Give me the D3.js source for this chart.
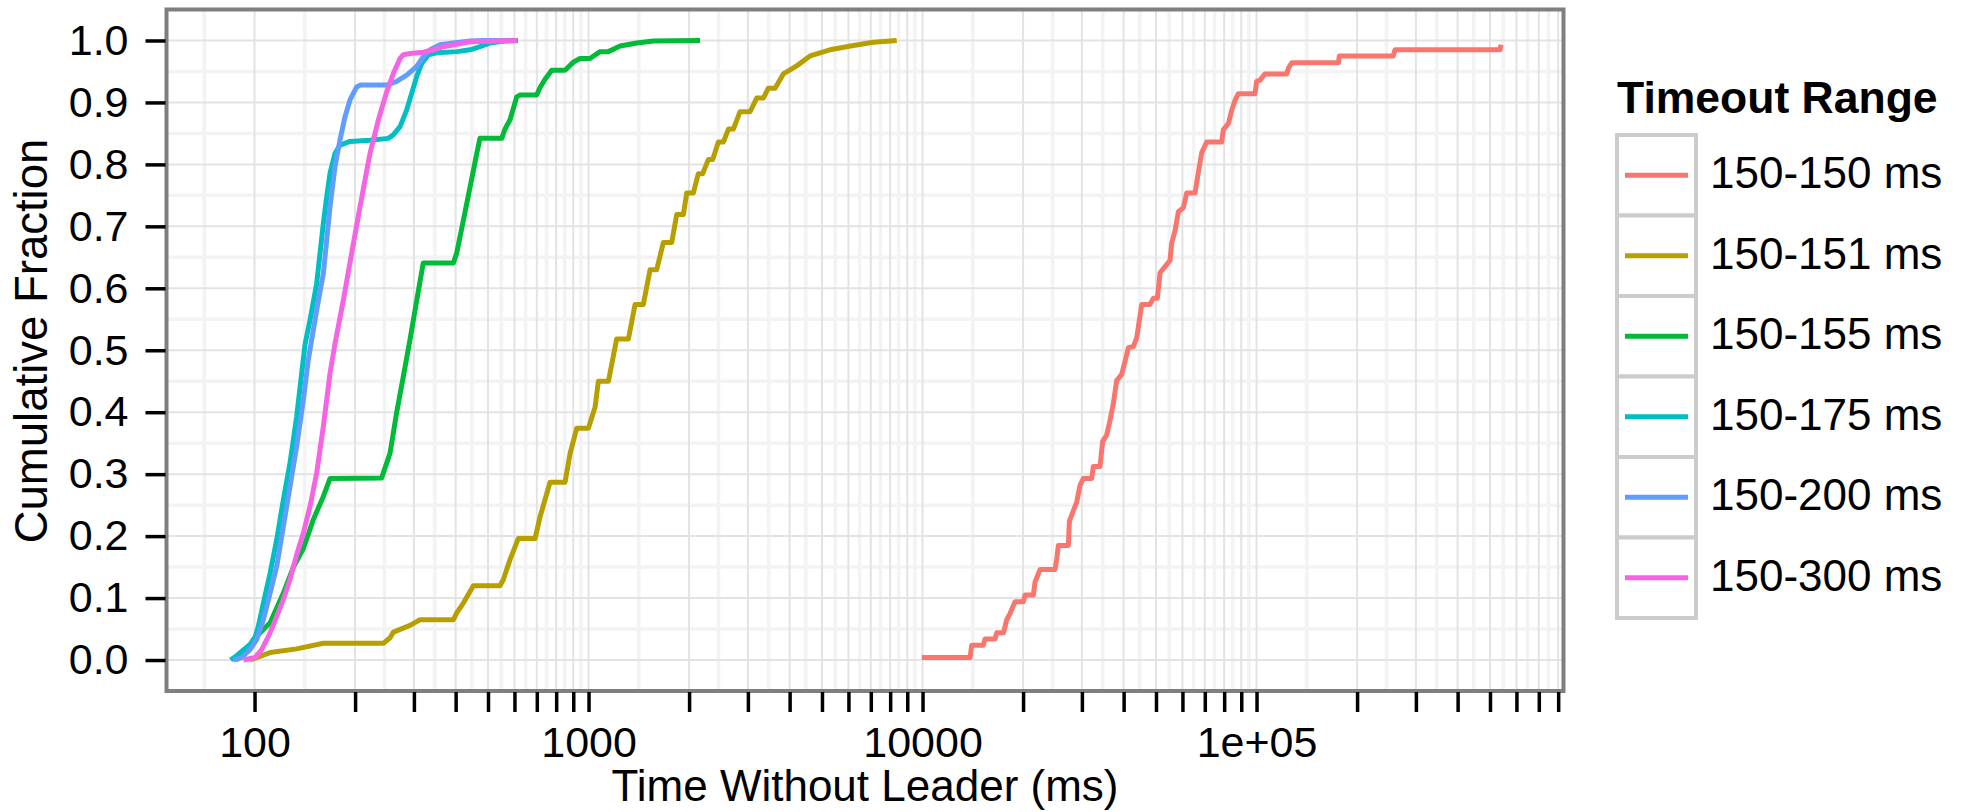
<!DOCTYPE html>
<html><head><meta charset="utf-8">
<script src="https://cdn.jsdelivr.net/npm/d3@7"></script>
<style>
body{margin:0;background:#fff}
svg{display:block}
text{font-family:"Liberation Sans", Arial, Helvetica, sans-serif;fill:#000}
</style>
</head><body>
<svg id="chart" width="1963" height="812"></svg>
<script>
// ---------------- data ----------------
const seriesNames = ["150-150 ms","150-151 ms","150-155 ms","150-175 ms","150-200 ms","150-300 ms"];
const seriesColors = ["#F8766D","#B79F00","#00BA38","#00BFC4","#619CFF","#F564E3"];

// [time (ms), cumulative fraction]
const s150_150 = [[9950,0.004],[13880,0.004],[14040,0.024],[15210,0.024],[15390,0.034],[16490,0.034],[16670,0.044],[17460,0.044],[17870,0.065],[18280,0.075],[18920,0.094],[20040,0.094],[20270,0.105],[21470,0.105],[21720,0.126],[22480,0.146],[24930,0.146],[25220,0.163],[25510,0.185],[27330,0.185],[27520,0.224],[28290,0.241],[28950,0.255],[29620,0.282],[30300,0.293],[32100,0.293],[32470,0.3125],[33990,0.3125],[34620,0.353],[35590,0.363],[36420,0.387],[37260,0.414],[38130,0.451],[39470,0.461],[40390,0.482],[41320,0.504],[42780,0.506],[43780,0.52],[45320,0.574],[47990,0.574],[49110,0.584],[50480,0.584],[51420,0.625],[53210,0.635],[55080,0.645],[55720,0.673],[57020,0.693],[58340,0.7235],[60390,0.73],[61790,0.754],[65460,0.754],[66980,0.788],[68540,0.819],[70920,0.836],[78650,0.836],[79560,0.856],[82360,0.866],[84260,0.887],[86230,0.9035],[88240,0.914],[98970,0.914],[100100,0.934],[102450,0.936],[106030,0.946],[123100,0.946],[124500,0.955],[127500,0.964],[175800,0.964],[177000,0.975],[256800,0.975],[259800,0.985],[535800,0.985],[539500,0.993]];

const s150_151 = [[96.9,0],[111.3,0.012],[133.7,0.018],[160.7,0.027],[243.1,0.027],[254.5,0.036],[260.4,0.045],[292,0.056],[313,0.065],[394,0.065],[403,0.076],[422,0.092],[452,0.12],[543,0.12],[556,0.13],[582,0.162],[616,0.196],[691.7,0.196],[715.8,0.231],[766.9,0.287],[850.4,0.287],[880.3,0.333],[921.8,0.374],[998.9,0.374],[1046,0.408],[1070,0.45],[1147,0.45],[1214,0.518],[1316,0.518],[1378,0.574],[1459,0.574],[1528,0.63],[1600,0.63],[1675,0.674],[1774,0.674],[1837,0.719],[1923,0.719],[1968,0.754],[2060,0.754],[2132,0.785],[2197,0.785],[2285,0.808],[2354,0.808],[2447,0.836],[2533,0.836],[2623,0.857],[2715,0.857],[2842,0.885],[3045,0.885],[3188,0.907],[3337,0.907],[3455,0.923],[3618,0.923],[3831,0.946],[4200,0.959],[4605,0.975],[5285,0.985],[6209,0.992],[7126,0.997],[8369,1.0]];

const s150_155 = [[88,0],[96,0.015],[99.2,0.033],[111.3,0.06],[122,0.108],[130.7,0.15],[140,0.18],[150,0.227],[160.7,0.264],[168.3,0.293],[240.2,0.294],[254.5,0.334],[266.5,0.40],[279,0.458],[292,0.517],[306,0.581],[320,0.641],[393.9,0.641],[403,0.657],[422,0.71],[442,0.764],[463,0.818],[473,0.842],[549.6,0.842],[561,0.856],[582,0.872],[609.5,0.909],[624,0.912],[699.5,0.912],[715.8,0.924],[741,0.9375],[775.8,0.952],[850.4,0.952],[900.6,0.965],[943,0.971],[1010,0.971],[1082,0.982],[1147,0.982],[1243,0.991],[1394,0.996],[1564,0.999],[2157,1.0]];

const s150_175 = [[84.8,0],[88.4,0.007],[91.5,0.014],[96.9,0.025],[100.3,0.036],[102.7,0.055],[106.3,0.092],[111.3,0.14],[116.5,0.194],[122.0,0.259],[127.7,0.318],[133.7,0.393],[138.4,0.463],[141.7,0.51],[146.6,0.549],[153.5,0.608],[160.7,0.705],[164.5,0.748],[168.3,0.786],[174.2,0.818],[180.3,0.831],[193.1,0.837],[221.7,0.839],[251.6,0.842],[260.5,0.848],[272.7,0.861],[285.5,0.888],[295.5,0.915],[305.9,0.942],[316.6,0.963],[331.5,0.977],[351.0,0.98],[403.0,0.982],[441.8,0.985],[473.3,0.99],[507.1,0.996],[560,0.999],[615,1.0]];

const s150_200 = [[86.4,0],[91.5,0.004],[96.9,0.017],[101.5,0.033],[106.3,0.065],[111.3,0.108],[116.5,0.151],[122.0,0.216],[127.7,0.28],[133.7,0.345],[140.0,0.42],[144.9,0.485],[147.5,0.51],[153.5,0.565],[160.7,0.624],[168.3,0.732],[174.2,0.797],[180.3,0.84],[186.6,0.877],[193.1,0.904],[202.2,0.925],[207,0.928],[248.7,0.928],[266.5,0.934],[285.5,0.944],[305.9,0.958],[320.2,0.974],[335.3,0.985],[359.3,0.993],[393.9,0.996],[441.8,0.999],[484.4,1.0],[600,1.0]];

const s150_300 = [[92.6,0],[100.3,0.004],[105.1,0.017],[111.3,0.044],[116.5,0.07],[122.0,0.098],[127.7,0.13],[133.7,0.17],[140.0,0.205],[146.6,0.248],[153.5,0.302],[160.7,0.377],[168.3,0.463],[174.2,0.511],[184.5,0.581],[195.4,0.657],[207.0,0.732],[221.7,0.818],[234.9,0.872],[248.7,0.917],[260.5,0.947],[272.7,0.971],[279.0,0.977],[292.1,0.979],[320.2,0.981],[343.1,0.985],[367.6,0.99],[403.0,0.994],[441.8,0.998],[609.5,1.0]];

const seriesData = [s150_150, s150_151, s150_155, s150_175, s150_200, s150_300];

const yTickValues = [0,0.1,0.2,0.3,0.4,0.5,0.6,0.7,0.8,0.9,1.0];
const yTickLabels = ["0.0","0.1","0.2","0.3","0.4","0.5","0.6","0.7","0.8","0.9","1.0"];
const xLabelValues = [100,1000,10000,100000];
const xTickLabels = ["100","1000","10000","1e+05"];
const xLimits = [54.5, 830000];
const yLimits = [-0.05, 1.05];
const xTitle = "Time Without Leader (ms)";
const yTitle = "Cumulative Fraction";
const legendTitle = "Timeout Range";

// ---------------- layout ----------------
const P = {left:166.5, right:1563.5, top:9.5, bottom:691};
const svg = d3.select("#chart");
const x = d3.scaleLog().domain(xLimits).range([P.left, P.right]);
const y = d3.scaleLinear().domain(yLimits).range([P.bottom, P.top]);

// major x breaks: 1..9 x 10^k from 100 upward, inside limits
const xMajor = [];
for (let k = 2; k <= 5; k++) for (let n = 1; n <= 9; n++) {
  const v = n * Math.pow(10, k);
  if (v >= xLimits[0] && v <= xLimits[1]) xMajor.push(v);
}
// minor x breaks: log-midpoints (ggplot style)
const lm = xMajor.map(Math.log10);
const bd = lm[1] - lm[0];
const lext = [lm[0] - bd, ...lm, lm[lm.length-1] + bd];
const xMinor = [];
for (let i = 0; i < lext.length - 1; i++) xMinor.push(Math.pow(10, (lext[i] + lext[i+1]) / 2));
const yMinor = [];
for (let i = -1; i < yTickValues.length; i++) yMinor.push((i + 0.5) / 10);

const grid = svg.append("g");
grid.append("rect").attr("x",P.left).attr("y",P.top).attr("width",P.right-P.left).attr("height",P.bottom-P.top).attr("fill","#fff");
const gMinor = grid.append("g").attr("stroke","#f3f3f3").attr("stroke-width",3.5);
xMinor.filter(v => x(v) > P.left && x(v) < P.right).forEach(v => {
  gMinor.append("line").attr("x1",x(v)).attr("x2",x(v)).attr("y1",P.top).attr("y2",P.bottom);
});
yMinor.filter(v => y(v) > P.top+1 && y(v) < P.bottom-1).forEach(v => {
  gMinor.append("line").attr("y1",y(v)).attr("y2",y(v)).attr("x1",P.left).attr("x2",P.right);
});
const gMajor = grid.append("g").attr("stroke","#e3e3e3").attr("stroke-width",2);
xMajor.forEach(v => gMajor.append("line").attr("x1",x(v)).attr("x2",x(v)).attr("y1",P.top).attr("y2",P.bottom));
yTickValues.forEach(v => gMajor.append("line").attr("y1",y(v)).attr("y2",y(v)).attr("x1",P.left).attr("x2",P.right));

// series
const line = d3.line().x(d => x(d[0])).y(d => y(d[1])).curve(d3.curveLinear);
const gLines = svg.append("g");
seriesData.forEach((s, i) => {
  gLines.append("path").datum(s).attr("d", line).attr("fill","none")
    .attr("stroke", seriesColors[i]).attr("stroke-width",5)
    .attr("stroke-linejoin","round").attr("stroke-linecap","butt");
});

// panel border
svg.append("rect").attr("x",P.left).attr("y",P.top).attr("width",P.right-P.left).attr("height",P.bottom-P.top)
  .attr("fill","none").attr("stroke","#7f7f7f").attr("stroke-width",4);

// axes
const xAxis = d3.axisBottom(x).tickValues(xMajor).tickSize(20).tickPadding(14)
  .tickFormat(v => { const i = xLabelValues.indexOf(v); return i >= 0 ? xTickLabels[i] : ""; });
const gx = svg.append("g").attr("transform",`translate(0,${P.bottom+1})`).call(xAxis);
gx.select(".domain").remove();
gx.selectAll(".tick line").attr("stroke","#000").attr("stroke-width",3.5);
gx.selectAll(".tick text").attr("font-size",43).attr("fill","#000");

const yAxis = d3.axisLeft(y).tickValues(yTickValues).tickSize(20).tickPadding(17)
  .tickFormat((v,i) => yTickLabels[i]);
const gy = svg.append("g").attr("transform",`translate(${P.left-1},0)`).call(yAxis);
gy.select(".domain").remove();
gy.selectAll(".tick line").attr("stroke","#000").attr("stroke-width",3.5);
gy.selectAll(".tick text").attr("font-size",43).attr("fill","#000");

// titles
svg.append("text").attr("x",(P.left+P.right)/2).attr("y",801).attr("text-anchor","middle")
  .attr("font-size",44).text(xTitle);
svg.append("text").attr("transform","translate(47,341) rotate(-90)").attr("text-anchor","middle")
  .attr("font-size",45.5).text(yTitle);

// legend
const L = {x:1617, top:135, keyW:79, keyH:80.5};
svg.append("text").attr("x",L.x).attr("y",113).attr("font-size",44.5).attr("font-weight","bold").text(legendTitle);
seriesNames.forEach((name, i) => {
  const ky = L.top + i * L.keyH;
  const g = svg.append("g");
  g.append("rect").attr("x",L.x).attr("y",ky).attr("width",L.keyW).attr("height",L.keyH)
    .attr("fill","#fff").attr("stroke","#cccccc").attr("stroke-width",4);
  g.append("line").attr("x1",L.x+8).attr("x2",L.x+L.keyW-8).attr("y1",ky+L.keyH/2).attr("y2",ky+L.keyH/2)
    .attr("stroke",seriesColors[i]).attr("stroke-width",5);
  g.append("text").attr("x",1710).attr("y",ky+L.keyH/2+13).attr("font-size",44).text(name);
});
</script>
</body></html>
